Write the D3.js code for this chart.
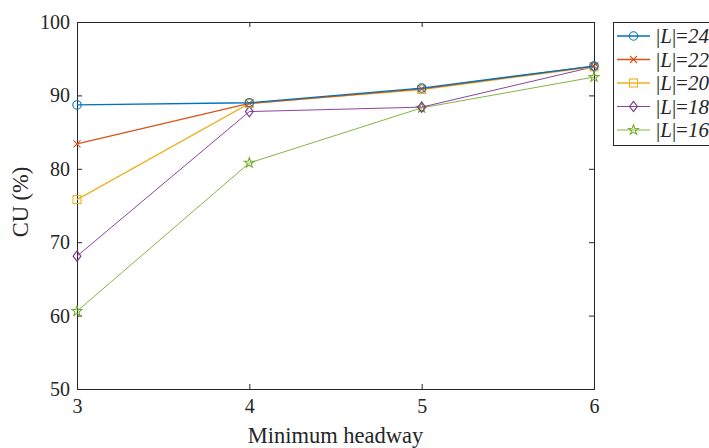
<!DOCTYPE html>
<html>
<head>
<meta charset="utf-8">
<script src="https://cdn.jsdelivr.net/npm/d3@7/dist/d3.min.js"></script>
<style>
  html, body { margin: 0; padding: 0; background: #fff; }
  svg { display: block; }
  svg text { font-family: 'Liberation Serif'; }
</style>
</head>
<body>
<svg id="chart" width="709" height="448"></svg>
<script>
// Minimum headway on the x axis
const headways = [3, 4, 5, 6];

// CU (%) for each path-set size |L|
const cu24 = [88.7, 89.0, 91.0, 94.0];
const cu22 = [83.4, 88.9, 90.9, 94.0];
const cu20 = [75.8, 88.9, 90.8, 93.9];
const cu18 = [68.1, 87.8, 88.4, 93.9];
const cu16 = [60.6, 80.8, 88.3, 92.5];

const seriesNames = ["24", "22", "20", "18", "16"];
const yTicks = [50, 60, 70, 80, 90, 100];

const series = [
  { name: seriesNames[0], values: cu24, color: "#0072BD", marker: "circle",  width: 1.3 },
  { name: seriesNames[1], values: cu22, color: "#D95319", marker: "cross",   width: 1.3 },
  { name: seriesNames[2], values: cu20, color: "#EDB120", marker: "square",  width: 1.3 },
  { name: seriesNames[3], values: cu18, color: "#7E2F8E", marker: "diamond", width: 0.9 },
  { name: seriesNames[4], values: cu16, color: "#77AC30", marker: "star",    width: 0.9 }
];

const svg = d3.select("#chart");
const plotL = 77, plotR = 594, plotT = 22, plotB = 389;
const axisColor = "#262626";
const tickFont = 20, labelFont = 22.5, legendFont = 21;
const serif = "Liberation Serif";

const x = d3.scaleLinear().domain([3, 6]).range([plotL, plotR]);
const y = d3.scaleLinear().domain([50, 100]).range([plotB, plotT]);

// Axes with inward ticks, MATLAB-style box
const gx = svg.append("g").attr("transform", `translate(0,${plotB})`)
  .call(d3.axisBottom(x).tickValues(headways).tickSize(-5).tickPadding(10).tickFormat(d3.format("d")));
const gy = svg.append("g").attr("transform", `translate(${plotL},0)`)
  .call(d3.axisLeft(y).tickValues(yTicks).tickSize(-5).tickPadding(7));
const gxTop = svg.append("g").attr("transform", `translate(0,${plotT})`)
  .call(d3.axisTop(x).tickValues(headways).tickSize(-5).tickFormat(""));
const gyRight = svg.append("g").attr("transform", `translate(${plotR},0)`)
  .call(d3.axisRight(y).tickValues(yTicks).tickSize(-5).tickFormat(""));

[gx, gy, gxTop, gyRight].forEach(g => {
  g.attr("font-family", serif).attr("font-size", tickFont);
  g.selectAll(".domain").attr("stroke", axisColor).attr("stroke-width", 1);
  g.selectAll(".tick line").attr("stroke", axisColor).attr("stroke-width", 1);
  g.selectAll(".tick text").attr("fill", axisColor)
    .attr("font-family", serif).attr("font-size", tickFont);
});
gx.selectAll(".tick text").attr("dy", "0.72em");

// Axis titles
svg.append("text")
  .attr("x", (plotL + plotR) / 2).attr("y", 443)
  .attr("text-anchor", "middle").attr("fill", axisColor)
  .attr("font-family", serif).attr("font-size", labelFont)
  .text("Minimum headway");
svg.append("text")
  .attr("transform", `translate(28,202) rotate(-90)`)
  .attr("text-anchor", "middle").attr("fill", axisColor)
  .attr("font-family", serif).attr("font-size", labelFont)
  .text("CU (%)");

// Marker shapes
function drawMarker(g, type, cx, cy, color) {
  const sw = 1.1;
  if (type === "circle") {
    g.append("circle").attr("cx", cx).attr("cy", cy).attr("r", 4.2)
      .attr("fill", "none").attr("stroke", color).attr("stroke-width", sw);
  } else if (type === "cross") {
    const s = 3.5;
    g.append("path")
      .attr("d", `M${cx - s},${cy - s}L${cx + s},${cy + s}M${cx - s},${cy + s}L${cx + s},${cy - s}`)
      .attr("stroke", color).attr("stroke-width", sw).attr("fill", "none");
  } else if (type === "square") {
    const s = 4;
    g.append("rect").attr("x", cx - s).attr("y", cy - s).attr("width", 2 * s).attr("height", 2 * s)
      .attr("fill", "none").attr("stroke", color).attr("stroke-width", sw);
  } else if (type === "diamond") {
    const s = 5.2;
    g.append("path")
      .attr("d", `M${cx},${cy - s}L${cx + s * 0.75},${cy}L${cx},${cy + s}L${cx - s * 0.75},${cy}Z`)
      .attr("fill", "none").attr("stroke", color).attr("stroke-width", sw);
  } else if (type === "star") {
    const R = 5.2, r = 2.1;
    const pts = d3.range(10).map(i => {
      const a = -Math.PI / 2 + i * Math.PI / 5;
      const rad = i % 2 === 0 ? R : r;
      return [cx + rad * Math.cos(a), cy + rad * Math.sin(a)];
    });
    g.append("path").attr("d", "M" + pts.map(p => p.join(",")).join("L") + "Z")
      .attr("fill", "none").attr("stroke", color).attr("stroke-width", sw);
  }
}

// Lines and markers, drawn from the last series up so |L|=24 sits on top
const line = d3.line().x((d, i) => x(headways[i])).y(d => y(d));
const plot = svg.append("g");
series.slice().reverse().forEach(s => {
  const g = plot.append("g");
  g.append("path").datum(s.values).attr("d", line)
    .attr("fill", "none").attr("stroke", s.color).attr("stroke-width", s.width);
  s.values.forEach((v, i) => drawMarker(g, s.marker, x(headways[i]), y(v), s.color));
});

// Legend
const lg = svg.append("g");
lg.append("rect").attr("x", 613.5).attr("y", 22.5).attr("width", 120).attr("height", 123)
  .attr("fill", "#fff").attr("stroke", axisColor).attr("stroke-width", 1);
series.forEach((s, i) => {
  const ly = 36 + i * 23.5;
  lg.append("line").attr("x1", 617).attr("x2", 650).attr("y1", ly).attr("y2", ly)
    .attr("stroke", s.color).attr("stroke-width", s.width);
  drawMarker(lg, s.marker, 633.5, ly, s.color);
  const t = lg.append("text").attr("x", 656).attr("y", ly).attr("dy", "0.35em")
    .attr("fill", axisColor).attr("font-family", serif).attr("font-size", legendFont);
  t.append("tspan").text("|");
  t.append("tspan").attr("font-style", "italic").text("L");
  t.append("tspan").text("|=");
  t.append("tspan").attr("font-style", "italic").text(s.name);
});
</script>
</body>
</html>
